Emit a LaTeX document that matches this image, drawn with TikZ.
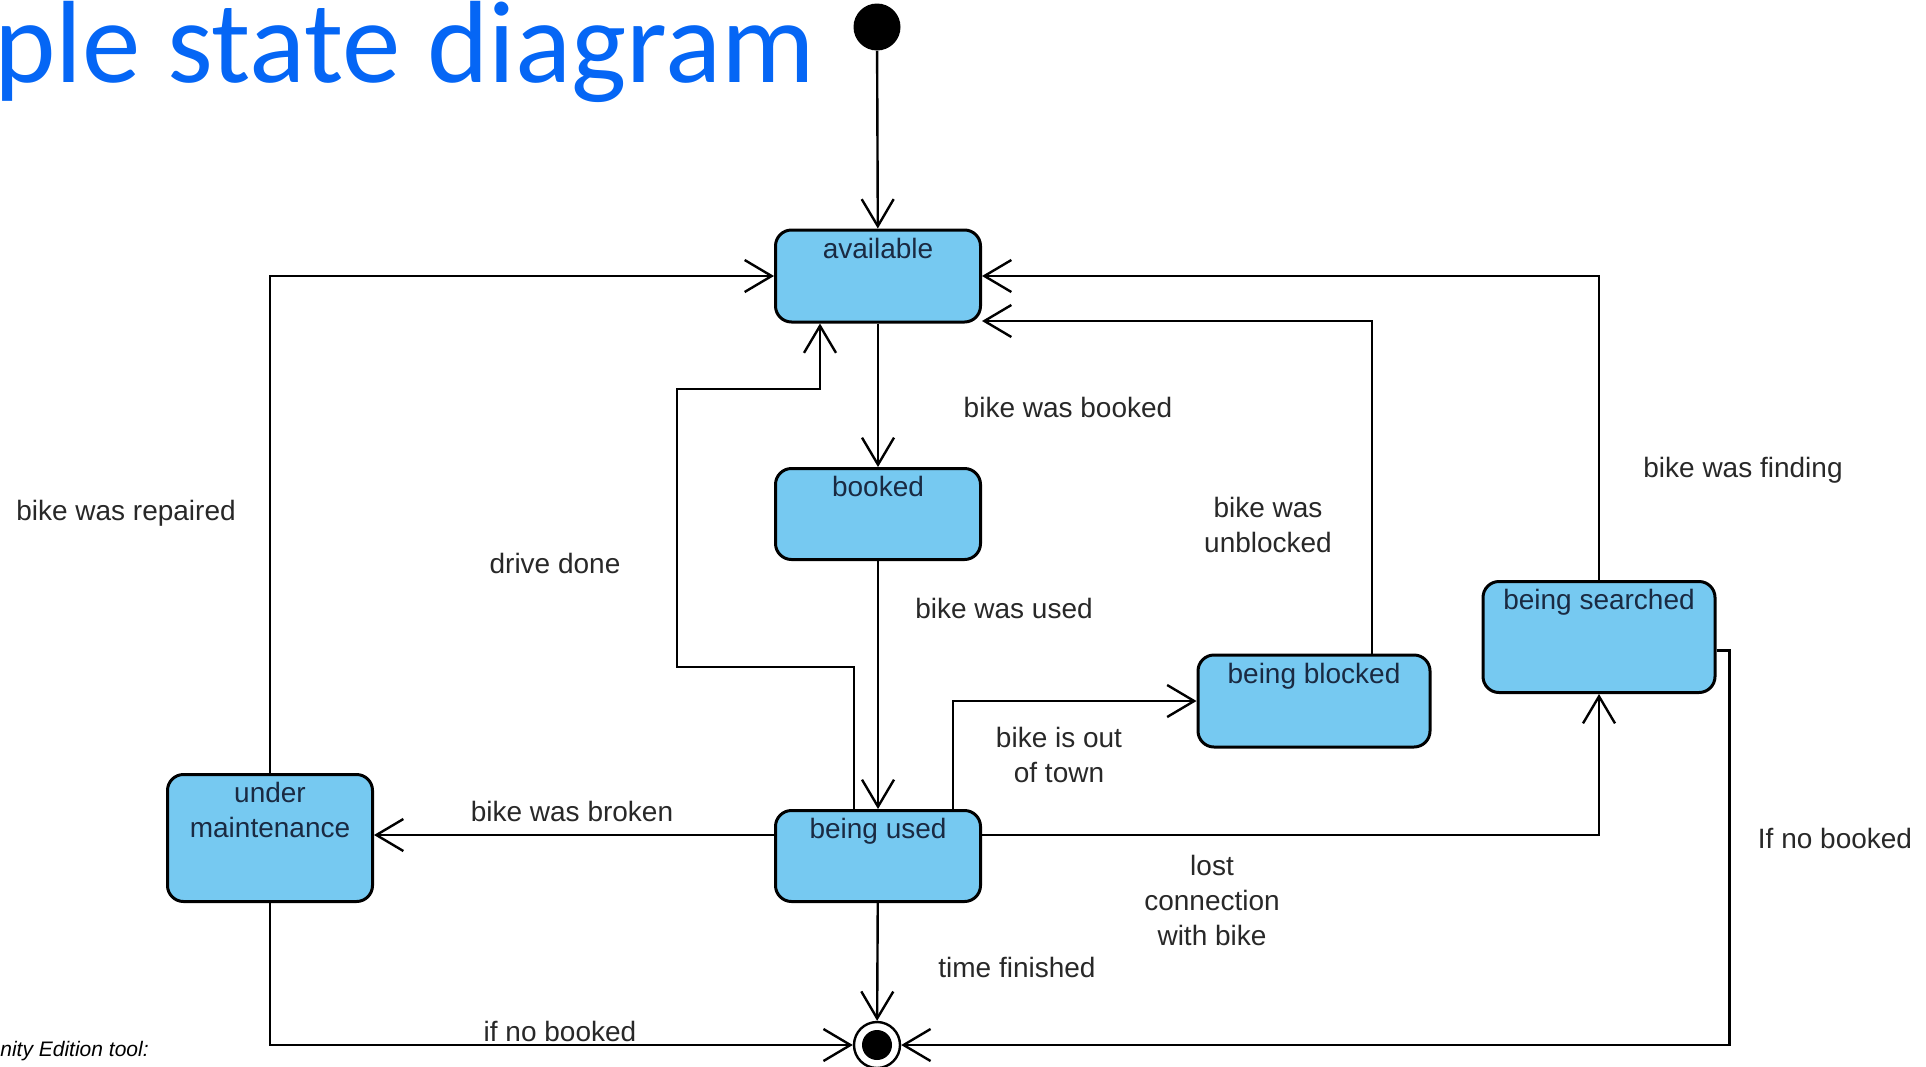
\documentclass[tikz,border=0pt]{standalone}
\usepackage{fontspec}
\setmainfont{Liberation Sans}
\newfontfamily\titlefont{Carlito}
\usetikzlibrary{arrows.meta}
\definecolor{stateblue}{RGB}{118,201,241}
\definecolor{statetext}{RGB}{26,42,66}
\definecolor{labeltext}{RGB}{40,40,40}
\definecolor{titleblue}{RGB}{5,102,245}
\begin{document}
\begin{tikzpicture}[x=0.5pt,y=-0.5pt,
  state/.style={draw=black,line width=1.5pt,fill=stateblue,rounded corners=8pt,
    text=statetext,font=\fontsize{14}{17.5}\selectfont,align=center,
    minimum width=102.5pt,text height=10pt,inner ysep=4pt},
  init/.style={circle,fill=black,minimum size=23.5pt,inner sep=0pt},
  final/.style={circle,draw=black,line width=1.2pt,fill=white,minimum size=23pt,inner sep=0pt,
    path picture={\fill[black] (path picture bounding box.center) circle (7.5pt);}},
  trans/.style={line width=1.2pt,-{Straight Barb[length=13.5pt,width=16pt]}},
  lbl/.style={text=labeltext,font=\fontsize{14}{17.5}\selectfont,align=center}]
\useasboundingbox (0,0) rectangle (1926,1066);

\node[anchor=base east,inner sep=0pt,text=titleblue,font=\titlefont\fontsize{58.5}{60}\selectfont] (title) at (815,82) {ple state diagram};
\node[anchor=west,inner sep=0pt,font=\itshape\fontsize{10.5}{12}\selectfont] (tool) at (0,1051) {nity Edition tool:};

% states
\node[init] (start) at (877,27) {};
\node[state,text depth=28pt] (avail) at (878,276) {available};
\node[state,text depth=27.5pt] (booked) at (878,514) {booked};
\node[state,text depth=27.5pt] (used) at (878,856) {being used};
\node[state,text height=27.5pt,text depth=28pt] (maint) at (270,838) {under\\maintenance};
\node[state,minimum width=116pt,text depth=28pt] (blocked) at (1314,701) {being blocked};
\node[state,minimum width=116pt,text depth=37.5pt] (searched) at (1599,637) {being searched};
\node[final] (stop) at (877,1045) {};

% transitions
\draw[trans] (start) -- (avail);
\draw[trans] (avail) -- (booked);
\draw[trans] (booked) -- (used);
\draw[trans] (used) -- (stop);
\draw[trans] (maint.north) |- (avail.west);
\draw[trans] (searched.north) |- (avail.east);
\draw[trans] ([xshift=29pt]blocked.north) |- ([yshift=-22.5pt]avail.east);
\draw[trans] ([xshift=-12pt]used.north) |- (677,667) |- (820,389) -- ([xshift=-29pt]avail.south);
\draw[trans] ([xshift=37.5pt]used.north) |- (blocked.west);
\coordinate (usedL) at ([yshift=10.5pt]used.west);
\coordinate (usedR) at ([yshift=10.5pt]used.east);
\draw[trans] (usedL) -- (usedL -| maint.east);
\draw[trans] (usedR) -| (searched.south);
\draw[trans] ([yshift=-6.75pt]searched.east) -- ++(13,0) |- (stop.east);
\draw[trans] (maint.south) |- (stop.west);

% labels
\node[lbl] (lbooked) at (1068,407) {bike was booked};
\node[lbl] (lrepaired) at (126,513) {bike was repaired};
\node[lbl] (ldone) at (555,563) {drive done};
\node[lbl] (lused) at (1004,608) {bike was used};
\node[lbl] (lunblocked) at (1268,525) {bike was\\unblocked};
\node[lbl] (lfinding) at (1743,470) {bike was finding};
\node[lbl] (ltown) at (1059,755) {bike is out\\of town};
\node[lbl] (lbroken) at (572,811) {bike was broken};
\node[lbl] (llost) at (1212,900) {lost\\connection\\with bike};
\node[lbl] (lnobooked) at (1835,838) {If no booked};
\node[lbl] (ltime) at (1017,967) {time finished};
\node[lbl] (lifno) at (560,1031) {if no booked};
\end{tikzpicture}
\end{document}
